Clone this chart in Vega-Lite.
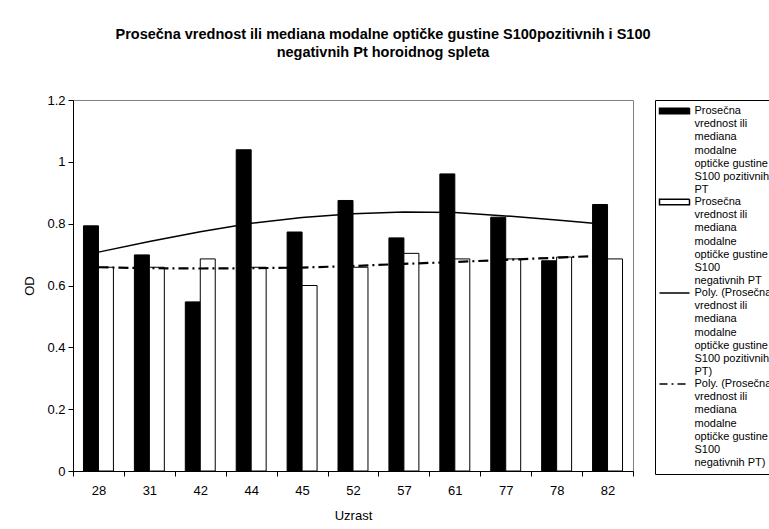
{
  "$schema": "https://vega.github.io/schema/vega-lite/v6.json",
  "autosize": {"type": "none"},
  "width": 560,
  "height": 371,
  "padding": {"left": 73, "top": 100, "right": 136, "bottom": 58},
  "background": "white",
  "title": {
    "text": ["Prosečna vrednost ili mediana modalne optičke gustine S100pozitivnih i S100", "negativnih Pt horoidnog spleta"],
    "anchor": "middle",
    "dx": 30,
    "offset": 34,
    "font": "Liberation Sans",
    "fontSize": 14.5,
    "fontWeight": "bold",
    "lineHeight": 18,
    "color": "black"
  },
  "datasets": {
    "bars": [
      {"age": "28", "series": "Prosečna|vrednost ili|mediana|modalne|optičke gustine|S100 pozitivnih|PT", "od": 0.793},
      {"age": "31", "series": "Prosečna|vrednost ili|mediana|modalne|optičke gustine|S100 pozitivnih|PT", "od": 0.699},
      {"age": "42", "series": "Prosečna|vrednost ili|mediana|modalne|optičke gustine|S100 pozitivnih|PT", "od": 0.547},
      {"age": "44", "series": "Prosečna|vrednost ili|mediana|modalne|optičke gustine|S100 pozitivnih|PT", "od": 1.039},
      {"age": "45", "series": "Prosečna|vrednost ili|mediana|modalne|optičke gustine|S100 pozitivnih|PT", "od": 0.773},
      {"age": "52", "series": "Prosečna|vrednost ili|mediana|modalne|optičke gustine|S100 pozitivnih|PT", "od": 0.875},
      {"age": "57", "series": "Prosečna|vrednost ili|mediana|modalne|optičke gustine|S100 pozitivnih|PT", "od": 0.754},
      {"age": "61", "series": "Prosečna|vrednost ili|mediana|modalne|optičke gustine|S100 pozitivnih|PT", "od": 0.961},
      {"age": "77", "series": "Prosečna|vrednost ili|mediana|modalne|optičke gustine|S100 pozitivnih|PT", "od": 0.821},
      {"age": "78", "series": "Prosečna|vrednost ili|mediana|modalne|optičke gustine|S100 pozitivnih|PT", "od": 0.680},
      {"age": "82", "series": "Prosečna|vrednost ili|mediana|modalne|optičke gustine|S100 pozitivnih|PT", "od": 0.862},
      {"age": "28", "series": "Prosečna|vrednost ili|mediana|modalne|optičke gustine|S100|negativnih PT", "od": 0.659},
      {"age": "31", "series": "Prosečna|vrednost ili|mediana|modalne|optičke gustine|S100|negativnih PT", "od": 0.659},
      {"age": "42", "series": "Prosečna|vrednost ili|mediana|modalne|optičke gustine|S100|negativnih PT", "od": 0.686},
      {"age": "44", "series": "Prosečna|vrednost ili|mediana|modalne|optičke gustine|S100|negativnih PT", "od": 0.659},
      {"age": "45", "series": "Prosečna|vrednost ili|mediana|modalne|optičke gustine|S100|negativnih PT", "od": 0.600},
      {"age": "52", "series": "Prosečna|vrednost ili|mediana|modalne|optičke gustine|S100|negativnih PT", "od": 0.659},
      {"age": "57", "series": "Prosečna|vrednost ili|mediana|modalne|optičke gustine|S100|negativnih PT", "od": 0.704},
      {"age": "61", "series": "Prosečna|vrednost ili|mediana|modalne|optičke gustine|S100|negativnih PT", "od": 0.686},
      {"age": "77", "series": "Prosečna|vrednost ili|mediana|modalne|optičke gustine|S100|negativnih PT", "od": 0.686},
      {"age": "78", "series": "Prosečna|vrednost ili|mediana|modalne|optičke gustine|S100|negativnih PT", "od": 0.692},
      {"age": "82", "series": "Prosečna|vrednost ili|mediana|modalne|optičke gustine|S100|negativnih PT", "od": 0.686}
    ],
    "trendPos": [
      {"age": "28", "od": 0.708},
      {"age": "31", "od": 0.742},
      {"age": "42", "od": 0.774},
      {"age": "44", "od": 0.801},
      {"age": "45", "od": 0.820},
      {"age": "52", "od": 0.832},
      {"age": "57", "od": 0.838},
      {"age": "61", "od": 0.836},
      {"age": "77", "od": 0.825},
      {"age": "78", "od": 0.812},
      {"age": "82", "od": 0.797}
    ],
    "trendNeg": [
      {"age": "28", "od": 0.659},
      {"age": "31", "od": 0.656},
      {"age": "42", "od": 0.655},
      {"age": "44", "od": 0.656},
      {"age": "45", "od": 0.658},
      {"age": "52", "od": 0.663},
      {"age": "57", "od": 0.670},
      {"age": "61", "od": 0.676},
      {"age": "77", "od": 0.683},
      {"age": "78", "od": 0.690},
      {"age": "82", "od": 0.697}
    ]
  },
  "encoding": {
    "x": {
      "field": "age",
      "type": "nominal",
      "scale": {"domain": ["28", "31", "42", "44", "45", "52", "57", "61", "77", "78", "82"], "paddingInner": 0, "paddingOuter": 0},
      "axis": {"title": "Uzrast", "labelAngle": 0, "tickBand": "extent", "labelPadding": 8, "titlePadding": 12}
    },
    "y": {
      "field": "od",
      "type": "quantitative",
      "scale": {"domain": [0, 1.2], "nice": false},
      "axis": {"title": "OD", "values": [0, 0.2, 0.4, 0.6, 0.8, 1, 1.2], "format": "~g", "labelPadding": 3, "titlePadding": 10}
    }
  },
  "layer": [
    {
      "data": {"name": "bars"},
      "mark": {"type": "bar", "stroke": "black", "strokeWidth": 1, "opacity": 1},
      "encoding": {
        "xOffset": {
          "field": "series",
          "type": "nominal",
          "scale": {
            "domain": [
              "Prosečna|vrednost ili|mediana|modalne|optičke gustine|S100 pozitivnih|PT",
              "Prosečna|vrednost ili|mediana|modalne|optičke gustine|S100|negativnih PT"
            ],
            "paddingInner": 0,
            "paddingOuter": 0.7
          }
        },
        "fill": {
          "field": "series",
          "type": "nominal",
          "scale": {
            "domain": [
              "Prosečna|vrednost ili|mediana|modalne|optičke gustine|S100 pozitivnih|PT",
              "Prosečna|vrednost ili|mediana|modalne|optičke gustine|S100|negativnih PT",
              "Poly. (Prosečna|vrednost ili|mediana|modalne|optičke gustine|S100 pozitivnih|PT)",
              "Poly. (Prosečna|vrednost ili|mediana|modalne|optičke gustine|S100|negativnih PT)"
            ],
            "range": ["black", "white", "black", "black"]
          },
          "legend": {
            "title": null,
            "orient": "right",
            "offset": 22,
            "padding": 5,
            "strokeColor": "black",
            "fillColor": "white",
            "symbolType": "M-3,-0.57H3V0.57H-3Z",
            "symbolSize": 100,
            "symbolOffset": 8.5,
            "symbolStrokeWidth": 1.5,
            "symbolStrokeColor": "black",
            "symbolOpacity": 1,
            "labelFont": "Liberation Sans",
            "labelFontSize": 11,
            "labelColor": "black",
            "labelBaseline": "top",
            "labelOffset": 14,
            "labelLimit": 300,
            "rowPadding": 0,
            "labelExpr": "split(datum.label, '|')",
            "encode": {
              "symbols": {
                "update": {
                  "shape": {"signal": "indexof(datum.value, 'Poly') == 0 ? 'M-3,0H3' : 'M-3,-0.57H3V0.57H-3Z'"},
                  "fill": {"signal": "indexof(datum.value, 'Poly') == 0 ? 'transparent' : (indexof(datum.value, 'negativnih') >= 0 ? 'white' : 'black')"},
                  "stroke": {"value": "black"},
                  "strokeWidth": {"value": 1.5},
                  "strokeDash": {"signal": "(indexof(datum.value, 'Poly') == 0 && indexof(datum.value, 'negativnih') >= 0) ? [8, 4, 2, 4] : [1, 0]"}
                }
              },
              "labels": {
                "update": {
                  "dy": {"value": -6},
                  "lineHeight": {"value": 13.2}
                }
              }
            }
          }
        }
      }
    },
    {
      "data": {"name": "trendPos"},
      "mark": {"type": "line", "color": "black", "strokeWidth": 1.5},
      "encoding": {}
    },
    {
      "data": {"name": "trendNeg"},
      "mark": {"type": "line", "color": "black", "strokeWidth": 2.2, "strokeDash": [10, 4, 2, 4]},
      "encoding": {}
    }
  ],
  "config": {
    "view": {"stroke": "#808080", "strokeWidth": 1},
    "axis": {
      "domainColor": "black",
      "tickColor": "black",
      "labelColor": "black",
      "titleColor": "black",
      "labelFont": "Liberation Sans",
      "titleFont": "Liberation Sans",
      "labelFontSize": 13,
      "titleFontSize": 13,
      "titleFontWeight": "normal",
      "grid": false,
      "tickSize": 5
    }
  }
}
